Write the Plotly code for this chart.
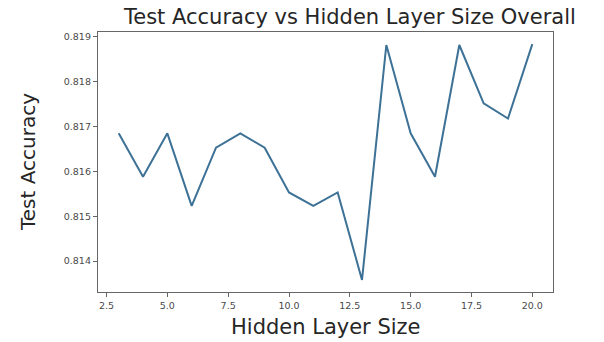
import plotly.graph_objects as go

# Hidden layer sizes and the test accuracy measured for each
hidden_sizes = list(range(3, 21))
test_accuracy = [
    0.81685, 0.81588, 0.81685, 0.81523, 0.81653, 0.81685,
    0.81653, 0.81553, 0.81523, 0.81553, 0.81358, 0.81882,
    0.81685, 0.81588, 0.81882, 0.81752, 0.81718, 0.81884,
]
x_ticks = [2.5, 5.0, 7.5, 10.0, 12.5, 15.0, 17.5, 20.0]
y_ticks = [0.814, 0.815, 0.816, 0.817, 0.818, 0.819]

W, H = 604, 342
L, R, T, B = 98, 51, 32, 50
plot_w = W - L - R
plot_h = H - T - B

font = "DejaVu Sans"

fig = go.Figure(
    go.Scatter(
        x=hidden_sizes,
        y=test_accuracy,
        mode="lines",
        line=dict(color="#3d7196", width=2),
        hoverinfo="x+y",
    )
)

axis_common = dict(
    showgrid=False,
    zeroline=False,
    showline=True,
    mirror=True,
    linecolor="#666666",
    linewidth=1.3,
    ticks="outside",
    ticklen=4,
    tickwidth=1,
    tickcolor="#666666",
    tickfont=dict(family=font, size=9.5, color="#4a4a4a"),
)

fig.update_layout(
    width=W,
    height=H,
    margin=dict(l=L, r=R, t=T, b=B, pad=0),
    paper_bgcolor="white",
    plot_bgcolor="white",
    showlegend=False,
    xaxis=dict(
        range=[2.15, 20.85],
        tickvals=x_ticks,
        ticktext=[f"{v:.1f}" for v in x_ticks],
        **axis_common,
    ),
    yaxis=dict(
        range=[0.81331, 0.81911],
        tickvals=y_ticks,
        ticktext=[f"{v:.3f}" for v in y_ticks],
        **axis_common,
    ),
    annotations=[
        dict(
            text="Test Accuracy vs Hidden Layer Size Overall",
            xref="paper", yref="paper",
            x=(349 - L) / plot_w, y=(H - B - 17) / plot_h,
            xanchor="center", yanchor="middle",
            showarrow=False,
            font=dict(family=font, size=21, color="#262626"),
        ),
        dict(
            text="Hidden Layer Size",
            xref="paper", yref="paper",
            x=0.5, y=(H - B - 327) / plot_h,
            xanchor="center", yanchor="middle",
            showarrow=False,
            font=dict(family=font, size=21, color="#262626"),
        ),
        dict(
            text="Test Accuracy",
            xref="paper", yref="paper",
            x=(28 - L) / plot_w, y=0.5,
            xanchor="center", yanchor="middle",
            textangle=-90,
            showarrow=False,
            font=dict(family=font, size=20, color="#262626"),
        ),
    ],
)

fig.write_html("out.html")
